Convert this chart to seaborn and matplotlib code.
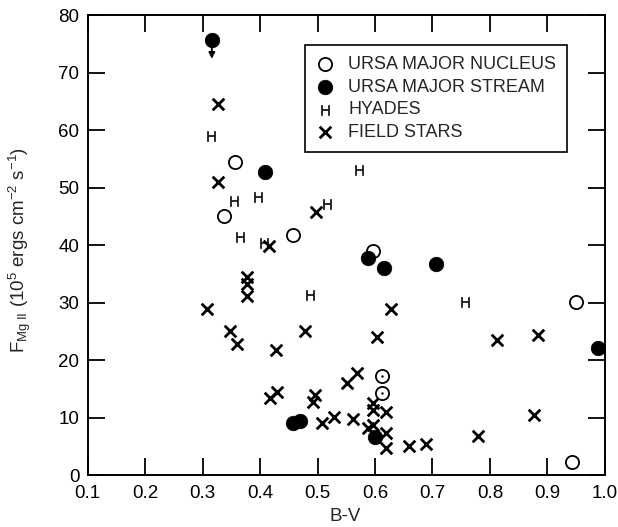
import matplotlib
matplotlib.use("Agg")
import matplotlib.pyplot as plt
import seaborn as sns
import pandas as pd

# ---- data ----
umn_bv = [0.356, 0.338, 0.457, 0.597, 0.613, 0.613, 0.950, 0.943]
umn_f = [54.5, 45.0, 41.8, 39.0, 17.3, 14.3, 30.2, 2.3]
umn_dotted = [False, False, False, False, True, True, False, False]

ums_bv = [0.316, 0.408, 0.588, 0.616, 0.707, 0.458, 0.469, 0.600, 0.989]
ums_f = [75.7, 52.7, 37.8, 36.0, 36.7, 9.0, 9.5, 6.6, 22.1]
ums_upper = [True, False, False, False, False, False, False, False, False]

hya_bv = [0.314, 0.355, 0.396, 0.516, 0.365, 0.406, 0.572, 0.487, 0.757]
hya_f = [58.9, 47.7, 48.4, 47.2, 41.4, 40.3, 53.0, 31.3, 30.2]

fld_bv = [0.327, 0.326, 0.497, 0.415, 0.377, 0.377, 0.377, 0.308, 0.628,
          0.348, 0.359, 0.479, 0.427, 0.604, 0.813, 0.883, 0.568, 0.551,
          0.429, 0.417, 0.496, 0.492, 0.508, 0.529, 0.561, 0.597, 0.597,
          0.619, 0.588, 0.597, 0.619, 0.619, 0.660, 0.689, 0.779, 0.877]
fld_f = [64.6, 50.9, 45.7, 39.9, 34.4, 33.2, 31.2, 28.9, 28.9,
         25.0, 22.8, 25.0, 21.8, 24.1, 23.5, 24.3, 17.8, 16.0,
         14.5, 13.4, 13.9, 12.8, 9.0, 10.1, 9.7, 12.6, 11.3,
         11.0, 8.2, 8.7, 7.4, 4.8, 5.0, 5.4, 6.8, 10.5]

labels = ["URSA MAJOR NUCLEUS", "URSA MAJOR STREAM", "HYADES", "FIELD STARS"]
x_ticks = [0.1, 0.2, 0.3, 0.4, 0.5, 0.6, 0.7, 0.8, 0.9, 1.0]
x_tick_labels = ["0.1", "0.2", "0.3", "0.4", "0.5", "0.6", "0.7", "0.8", "0.9", "1.0"]
y_ticks = [0, 10, 20, 30, 40, 50, 60, 70, 80]

sns.set_style("ticks")
plt.rcParams["font.family"] = ["Liberation Sans", "DejaVu Sans"]
plt.rcParams["mathtext.fontset"] = "custom"
plt.rcParams["mathtext.rm"] = "Liberation Sans"
plt.rcParams["mathtext.it"] = "Liberation Sans"

fig = plt.figure(figsize=(6.18, 5.27), dpi=100)
ax = fig.add_axes([0.142, 0.0983, 0.8366, 0.873])

umn = pd.DataFrame({"bv": umn_bv, "f": umn_f, "dot": umn_dotted})
ums = pd.DataFrame({"bv": ums_bv, "f": ums_f, "up": ums_upper})
hya = pd.DataFrame({"bv": hya_bv, "f": hya_f})
fld = pd.DataFrame({"bv": fld_bv, "f": fld_f})

sns.scatterplot(data=fld, x="bv", y="f", marker="x", s=70, color="black",
                linewidth=2.0, ax=ax, label=labels[3], zorder=3)
sns.scatterplot(data=hya, x="bv", y="f", marker=r"$\mathrm{H}$", s=55, color="black",
                edgecolor="black", linewidth=0.45, ax=ax, label=labels[2], zorder=3)
sns.scatterplot(data=umn, x="bv", y="f", marker="o", s=90, facecolor="white",
                edgecolor="black", linewidth=1.3, ax=ax, label=labels[0], zorder=4)
sns.scatterplot(data=umn[umn["dot"]], x="bv", y="f", marker="o", s=3, color="black",
                linewidth=0, ax=ax, legend=False, zorder=5)
sns.scatterplot(data=ums, x="bv", y="f", marker="o", s=110, color="black",
                edgecolor="black", linewidth=0.5, ax=ax, label=labels[1], zorder=4)

for _, r in ums[ums["up"]].iterrows():
    ax.annotate("", xy=(r["bv"], r["f"] - 3.3), xytext=(r["bv"], r["f"]),
                arrowprops=dict(arrowstyle="-|>", color="black", lw=1.3,
                                mutation_scale=9, shrinkA=0, shrinkB=0),
                zorder=3)

ax.set_xlim(0.1, 1.0)
ax.set_ylim(0, 80)
ax.set_xticks(x_ticks)
ax.set_xticklabels(x_tick_labels)
ax.set_yticks(y_ticks)

for s in ax.spines.values():
    s.set_linewidth(1.4)
    s.set_color("black")
ax.tick_params(axis="both", which="major", direction="in", length=12.5, width=1.3,
               top=True, right=True, labelsize=13.5, colors="black")
ax.tick_params(axis="x", pad=7)
ax.tick_params(axis="y", pad=6)

ax.set_xlabel("B-V", fontsize=13.5)
ax.xaxis.set_label_coords(0.4976, -0.072)
ax.set_ylabel(r"$F_{\mathrm{Mg\ II}}$ (10$^{5}$ ergs cm$^{-2}$ s$^{-1}$)", fontsize=13.5)
ax.yaxis.set_label_coords(-0.105, 0.49)

handles, lbls = ax.get_legend_handles_labels()
order = [lbls.index(l) for l in labels]
leg = ax.legend([handles[i] for i in order], [lbls[i] for i in order],
                loc="upper right", bbox_to_anchor=(0.927, 0.935), borderaxespad=0,
                fontsize=13, frameon=True, fancybox=False, edgecolor="black",
                framealpha=1, handlelength=1.0, handletextpad=0.8,
                labelspacing=0.32, borderpad=0.6)
leg.get_frame().set_linewidth(1.2)

fig.savefig("out.png", dpi=100)
